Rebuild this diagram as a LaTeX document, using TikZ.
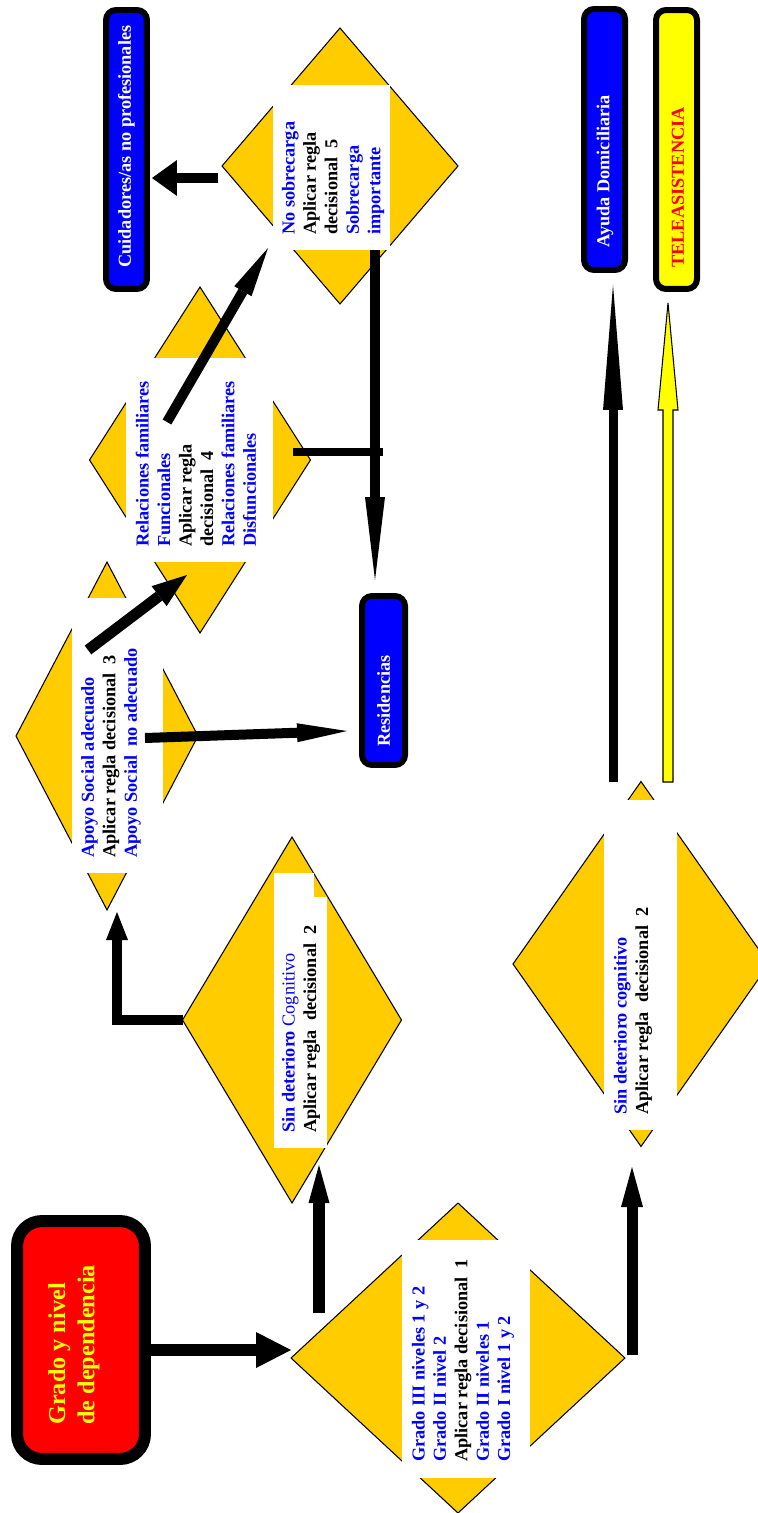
\documentclass[tikz,border=0pt]{standalone}
\usepackage{fontspec}
\setmainfont{Liberation Serif}
\usetikzlibrary{arrows.meta,calc,shapes.geometric}

\definecolor{gold}{RGB}{255,204,0}
\definecolor{pureblue}{RGB}{0,0,255}
\definecolor{purered}{RGB}{255,0,0}
\definecolor{pureyellow}{RGB}{255,255,0}

\tikzset{
  decision/.style={diamond,draw=black,line width=0.6pt,fill=gold,inner sep=0pt,outer sep=0pt},
  dtext/.style={rotate=90,anchor=west,align=left,inner sep=0pt,text=pureblue,
    font=\bfseries\fontsize{10.4}{12.2}\selectfont},
  resource/.style={rectangle,draw=black,line width=0.12cm,rounded corners=0.2cm,fill=pureblue,inner sep=0pt},
  rtext/.style={rotate=90,anchor=west,inner sep=0pt,text=white,
    font=\bfseries\fontsize{10.4}{12.2}\selectfont},
  arr/.style={draw=black,line width=0.2cm},
  ahead/.style 2 args={-{Triangle[length=#1,width=#2,line width=0pt]}},
}

\begin{document}
\begin{tikzpicture}[x=0.02cm,y=-0.02cm]
  \useasboundingbox (0,0) rectangle (757,1513);

  % decision diamonds
  \node[decision,minimum width=6.68cm,minimum height=6.2cm] (d1) at (458,1358) {};
  \node[decision,minimum width=4.38cm,minimum height=7.32cm] (d2) at (292,1020) {};
  \node[decision,minimum width=3.64cm,minimum height=6.96cm] (d3) at (107,736) {};
  \node[decision,minimum width=4.42cm,minimum height=6.92cm] (d4) at (200,460) {};
  \node[decision,minimum width=4.72cm,minimum height=5.52cm] (d5) at (340,166) {};
  \node[decision,minimum width=5.12cm,minimum height=7.3cm] (d6) at (641,964) {};

  % white strips behind the texts
  \fill[white] (402,1240) rectangle (530,1478);
  \fill[white] (274,897) rectangle (327,1148);
  \fill[white] (274,873) rectangle (314,897);
  \fill[white] (72,598) rectangle (163,873);
  \fill[white] (126,358) rectangle (273,562);
  \fill[white] (273,85) rectangle (390,250);
  \fill[white] (604,800) rectangle (677,1130);

  \node[dtext] (t1) at (463,1462) {Grado III niveles 1 y 2\\Grado II nivel 2\\
    \textcolor{black}{Aplicar regla decisional\ \ 1}\\Grado II niveles 1\\Grado I nivel 1 y 2};
  \node[dtext] (t2) at (301,1133) {Sin deterioro {\mdseries Cognitivo}\\
    \textcolor{black}{Aplicar regla\ \ decisional\ \ 2}};
  \node[dtext] (t3) at (111,858) {Apoyo Social adecuado\\
    \textcolor{black}{Aplicar regla decisional\ \ 3}\\Apoyo Social\ \ no adecuado};
  \node[dtext] (t4) at (196,547) {Relaciones familiares\\Funcionales\\
    \textcolor{black}{Aplicar regla}\\\textcolor{black}{decisional\ \ 4}\\
    Relaciones familiares\\Disfuncionales};
  \node[dtext] (t5) at (333,235) {No sobrecarga\\\textcolor{black}{Aplicar regla}\\
    \textcolor{black}{decisional\ \ 5}\\Sobrecarga\\importante};
  \node[dtext] (t6) at (633,1115) {Sin deterioro cognitivo\\
    \textcolor{black}{Aplicar regla\ \ decisional\ \ 2}};

  % start box and resources
  \node[resource,fill=purered,line width=0.24cm,rounded corners=0.5cm,
    minimum width=2.56cm,minimum height=4.76cm] (rb) at (81,1340) {};
  \node[rtext,text=pureyellow,align=left,font=\bfseries\fontsize{13.8}{16.6}\selectfont]
    (rbt) at (74,1425) {Grado y nivel\\de dependencia};

  \node[resource,minimum width=0.82cm,minimum height=5.58cm] (cb) at (126.5,149.5) {};
  \node[rtext] (cbt) at (126.5,268) {Cuidadores/as no profesionales};
  \node[resource,minimum width=0.86cm,minimum height=3.38cm] (res) at (383.5,680.5) {};
  \node[rtext] (rest) at (383.5,747) {Residencias};
  \node[resource,minimum width=0.82cm,minimum height=5.22cm] (ad) at (604.5,139.5) {};
  \node[rtext] (adt) at (605,248) {Ayuda Domiciliaria};
  \node[resource,fill=pureyellow,minimum width=0.82cm,minimum height=5.58cm] (tele) at (676.5,149.5) {};
  \node[rtext,text=purered] (telet) at (678,268) {TELEASISTENCIA};

  % arrow ends
  \coordinate (a1) at ([yshift=-0.2cm]rb.east);
  \coordinate (d1up) at (319,1313);
  \coordinate (d2in) at (319,1165);
  \coordinate (d1out) at (632,1355);
  \coordinate (d6in) at (632,1167);
  \coordinate (d3in) at (117,912);
  \coordinate (d3no) at (145,738);
  \coordinate (resin) at (347,731);
  \coordinate (d3yes) at (88,650);
  \coordinate (d4in) at (187,575);
  \coordinate (d4yes) at (167,422);
  \coordinate (d5in) at (268,248);
  \coordinate (d4no) at (293,452);
  \coordinate (d4join) at (383,452);
  \coordinate (d5no) at (375,250);
  \coordinate (restop) at (375,580);
  \coordinate (d5yes) at (218,178);
  \coordinate (cbin) at (152,178);
  \coordinate (d6up) at (613,782);
  \coordinate (adin) at (613,285);
  \coordinate (d6tele) at (668,782);
  \coordinate (telein) at (668,303);

  % connectors
  \draw[arr,line width=0.24cm,ahead={0.7cm}{0.72cm}] (a1) -- (a1 -| d1.west);
  \draw[arr,line width=0.24cm,ahead={0.76cm}{0.42cm}] (d1up) -- (d2in);
  \draw[arr,line width=0.22cm,ahead={0.8cm}{0.44cm}] (d1out) -- (d6in);
  \draw[arr,ahead={0.56cm}{0.44cm}] (d2.west) -| (d3in);
  \draw[arr,ahead={1cm}{0.38cm}] (d3no) -- (resin);
  \draw[arr,line width=0.22cm,ahead={0.7cm}{0.5cm}] (d3yes) -- (d4in);
  \draw[arr,ahead={1cm}{0.4cm}] (d4yes) -- (d5in);
  \draw[arr,line width=0.18cm] (d4no) -- (d4join);
  \draw[arr,ahead={1.66cm}{0.4cm}] (d5no) -- (restop);
  \draw[arr,ahead={0.5cm}{0.72cm}] (d5yes) -- (cbin);
  \draw[arr,line width=0.18cm,ahead={2.5cm}{0.4cm}] (d6up) -- (adin);
  \filldraw[fill=pureyellow,draw=black,line width=0.6pt]
    ($(d6tele)+(-5,0)$) -- ($(telein)+(-5,107)$) -- ($(telein)+(-10,107)$) -- (telein)
    -- ($(telein)+(10,107)$) -- ($(telein)+(5,107)$) -- ($(d6tele)+(5,0)$) -- cycle;
\end{tikzpicture}
\end{document}
